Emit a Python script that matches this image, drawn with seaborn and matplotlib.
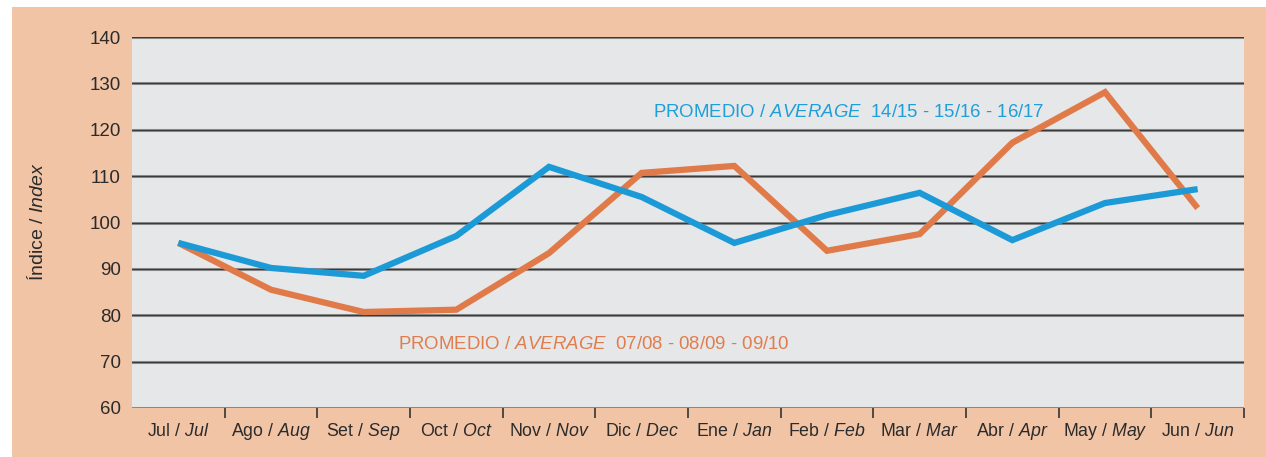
import matplotlib
matplotlib.use("Agg")
import matplotlib.pyplot as plt
import seaborn as sns
import pandas as pd
from matplotlib.patches import Rectangle
from matplotlib import font_manager

months_es = ["Jul", "Ago", "Set", "Oct", "Nov", "Dic", "Ene", "Feb", "Mar", "Abr", "May", "Jun"]
months_en = ["Jul", "Aug", "Sep", "Oct", "Nov", "Dec", "Jan", "Feb", "Mar", "Apr", "May", "Jun"]
avg_recent = [95.6, 90.2, 88.5, 97.1, 112.0, 105.5, 95.6, 101.6, 106.4, 96.2, 104.2, 107.2]
avg_old = [95.6, 85.5, 80.7, 81.2, 93.4, 110.7, 112.2, 93.9, 97.5, 117.2, 128.1, 103.1]
y_ticks = [60, 70, 80, 90, 100, 110, 120, 130, 140]
label_recent = "PROMEDIO / $\\mathit{AVERAGE}$  14/15 - 15/16 - 16/17"
label_old = "PROMEDIO / $\\mathit{AVERAGE}$  07/08 - 08/09 - 09/10"

sns.set_style("white")
names = {f.name for f in font_manager.fontManager.ttflist}
fam = "Liberation Sans Narrow" if "Liberation Sans Narrow" in names else "Liberation Sans"
plt.rcParams["font.family"] = [fam, "DejaVu Sans"]
plt.rcParams["mathtext.fontset"] = "custom"
plt.rcParams["mathtext.rm"] = fam
plt.rcParams["mathtext.it"] = fam + ":italic"

BLUE = "#1b9ad7"
ORANGE = "#e07a48"
PEACH = "#f2c4a6"
PLOTBG = "#e6e7e8"
TXT = "#2b2b2b"

fig = plt.figure(figsize=(12.66, 4.57), dpi=100)
fig.patch.set_facecolor("white")
fig.add_artist(Rectangle((12 / 1266, 0), 1 - 12 / 1266, (457 - 7) / 457,
                         transform=fig.transFigure, facecolor=PEACH, edgecolor="none", zorder=-10))

ax = fig.add_axes([132 / 1266, (457 - 408) / 457, (1244 - 132) / 1266, (408 - 37) / 457])
ax.set_facecolor(PLOTBG)

pos = list(range(len(months_es)))
df = pd.DataFrame({
    "x": pos * 2,
    "y": avg_old + avg_recent,
    "serie": ["old"] * len(pos) + ["recent"] * len(pos),
})

for yt in y_ticks:
    ax.axhline(yt, color="#9a9a9a", lw=2.2, zorder=1)
    ax.axhline(yt, color="#3a3a3a", lw=1.0, zorder=1.1)

sns.lineplot(data=df, x="x", y="y", hue="serie", palette={"old": ORANGE, "recent": BLUE},
             hue_order=["old", "recent"], lw=4.5, legend=False, ax=ax, zorder=3,
             solid_joinstyle="miter", solid_capstyle="butt")

ax.set_xlim(-0.5, len(pos) - 0.5)
ax.set_ylim(60, 140)
ax.set_yticks(y_ticks)
ax.set_yticklabels([str(v) for v in y_ticks], fontsize=13.5, color=TXT)
ax.set_xticks(pos)
ax.set_xticklabels([f"{a} / $\\mathit{{{b}}}$" for a, b in zip(months_es, months_en)],
                   fontsize=12.8, color=TXT)
for lab in ax.get_xticklabels():
    lab.set_verticalalignment("baseline")
ax.set_xticks([p + 0.5 for p in pos], minor=True)
ax.tick_params(axis="x", which="major", length=0, pad=20, bottom=True)
ax.tick_params(axis="x", which="minor", length=7, width=1.2, color="#333333",
               direction="out", bottom=True)
ax.tick_params(axis="y", length=0, pad=8)
for s in ax.spines.values():
    s.set_visible(False)
ax.set_xlabel("")
ax.set_ylabel("")

ax.text(5.12, 122.8, label_recent, color="#1e9fd9", fontsize=13.4, va="baseline", ha="left", zorder=4)
ax.text(2.37, 72.8, label_old, color="#e07d4f", fontsize=13.4, va="baseline", ha="left", zorder=4)

fig.text(37 / 1266, (457 - 222) / 457, "Índice / $\\mathit{Index}$", rotation=90,
         ha="center", va="center", fontsize=14, color=TXT)

fig.savefig("out.png", dpi=100)
